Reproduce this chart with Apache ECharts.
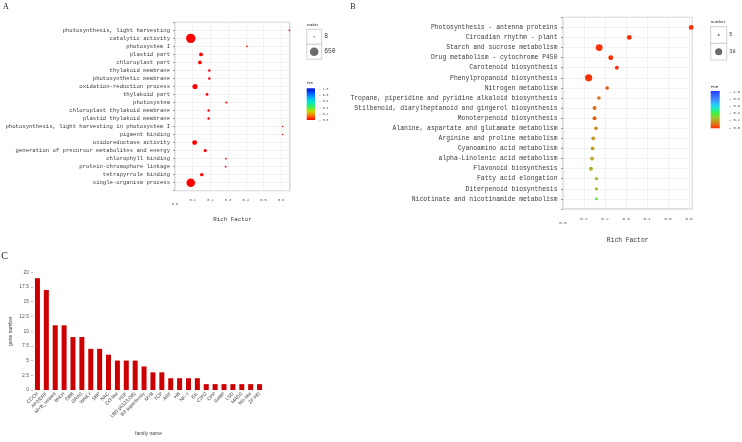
<!DOCTYPE html>
<html><head><meta charset="utf-8">
<script src="https://cdn.jsdelivr.net/npm/echarts@6/dist/echarts.min.js"></script>
<style>html,body{margin:0;padding:0;background:#fff}#c{width:742px;height:442px}</style>
</head><body><div id="c"></div>
<script>
// ---------- Panel A: GO enrichment ----------
const goTerms = ['photosynthesis, light harvesting','catalytic activity','photosystem I','plastid part','chloroplast part','thylakoid membrane','photosynthetic membrane','oxidation-reduction process','thylakoid part','photosystem','chloroplast thylakoid membrane','plastid thylakoid membrane','photosynthesis, light harvesting in photosystem I','pigment binding','oxidoreductase activity','generation of precursor metabolites and energy','chlorophyll binding','protein-chromophore linkage','tetrapyrrole binding','single-organism process'];
const goRich = [0.646,0.089,0.407,0.147,0.141,0.194,0.194,0.113,0.181,0.290,0.190,0.190,0.608,0.608,0.111,0.171,0.288,0.286,0.151,0.089];
const goNumber = [10,800,10,80,75,22,22,180,32,12,22,22,8,8,155,45,12,10,58,650];
const goFdr = [0.01,0.0,0.01,0.0,0.0,0.0,0.0,0.0,0.0,0.01,0.0,0.0,0.02,0.02,0.0,0.0,0.01,0.01,0.0,0.0];
const goSizeLegend = [8, 650];

// ---------- Panel B: KEGG enrichment ----------
const keggTerms = ['Photosynthesis - antenna proteins','Circadian rhythm - plant','Starch and sucrose metabolism','Drug metabolism - cytochrome P450','Carotenoid biosynthesis','Phenylpropanoid biosynthesis','Nitrogen metabolism','Tropane, piperidine and pyridine alkaloid biosynthesis','Stilbenoid, diarylheptanoid and gingerol biosynthesis','Monoterpenoid biosynthesis','Alanine, aspartate and glutamate metabolism','Arginine and proline metabolism','Cyanoamino acid metabolism','alpha-Linolenic acid metabolism','Flavonoid biosynthesis','Fatty acid elongation','Diterpenoid biosynthesis','Nicotinate and nicotinamide metabolism'];
const keggRich = [0.610,0.315,0.172,0.227,0.256,0.122,0.210,0.171,0.150,0.150,0.157,0.144,0.141,0.138,0.133,0.159,0.159,0.159];
const keggNumber = [14,14,33,15,9,38,8,8,10,10,8,9,9,9,10,7,7,6];
const keggFdr = [0.01,0.0,0.01,0.0,0.0,0.01,0.05,0.10,0.10,0.08,0.15,0.18,0.20,0.22,0.23,0.27,0.26,0.35];
const keggSizeLegend = [5, 38];

// ---------- Panel C: TF families ----------
const families = ['CCCH','AP2/ERF','MYB_related','bHLH','DBB','GRAS','WRKY','SBP','NAC','CO-like','HSF','LBD (AS2/LOB)','B3 superfamily','MYB','TCP','ARF','HB','NF-Y','EIL','C2H2','CPP','GeBP','LSD','MADS','Nin-like','ZF-HD'];
const geneCounts = [19,17,11,11,9,9,7,7,6,5,5,5,4,3,3,2,2,2,2,1,1,1,1,1,1,1];

const fdrTicks = ['1.0','0.8','0.6','0.4','0.2','0.0'];
const colorsA = ['#ff0000','#ff7a00','#b8e000','#30f060','#00e8d0','#00a8ff','#0050ff','#0010c8'];
const colorsB = ['#ff2a00','#e06a18','#c0a020','#90d030','#40f040','#20f0a0','#20d8f0','#30b0ff','#4080ff','#3060ff','#2040ff'];

const MONO = 'Liberation Mono';
const SANS = 'Liberation Sans';

function makeSize(vmin, vmax, dmin, dmax) {
  return v => dmin + (dmax - dmin) * Math.sqrt(Math.max(0, v - vmin) / (vmax - vmin));
}
const sizeA = makeSize(8, 650, 1.4, 8.6);
const sizeB = makeSize(5, 38, 2, 7.2);

function tickFmt(v) {
  const t = Math.round(v * 10);
  if (Math.abs(v * 10 - t) > 1e-6) return '';
  return t === 0 ? '{z|0.0}' : (t / 10).toFixed(1);
}
function catFmt(list) {
  return v => { const i = Math.round(v); return (Math.abs(v - i) < 1e-6 && list[i]) ? list[i] : ''; };
}
function gradient(colors) {
  return new echarts.graphic.LinearGradient(0, 1, 0, 0, colors.map((c, i) => ({offset: i / (colors.length - 1), color: c})));
}

function legendGraphics(o) {
  const els = [];
  els.push({type:'text', left:o.x, top:o.titleY - o.titleFs/2, style:{text:'Number', font:o.titleFs+'px "'+MONO+'"', fill:'#333'}});
  o.sizes.forEach((v, i) => {
    const y = o.boxY + i * o.boxH;
    els.push({type:'rect', shape:{x:o.x, y:y, width:o.boxW, height:o.boxH}, style:{fill:'#fff', stroke:'#c4c4c4', lineWidth:0.8}});
    els.push({type:'circle', shape:{cx:o.x + o.boxW/2, cy:y + o.boxH/2, r:o.sizeFn(v)/2}, style:{fill:'#6b6b6b'}});
    els.push({type:'text', x:o.x + o.boxW + 2.6, y:y + o.boxH/2, style:{text:String(v), font:o.labFs+'px "'+MONO+'"', fill:'#333', verticalAlign:'middle'}});
  });
  els.push({type:'text', x:o.x, y:o.fdrY, style:{text:'FDR', font:o.titleFs+'px "'+MONO+'"', fill:'#333', verticalAlign:'middle'}});
  els.push({type:'rect', shape:{x:o.x, y:o.barY, width:o.barW, height:o.barH}, style:{fill:gradient(o.colors)}});
  fdrTicks.forEach((t, i) => {
    const y = o.tickY0 + i * (o.tickY1 - o.tickY0) / (fdrTicks.length - 1);
    els.push({type:'text', x:o.tickX, y:y, style:{text:'- ' + t, font:o.tickFs+'px "'+MONO+'"', fill:'#444', verticalAlign:'middle'}});
  });
  return els;
}

const chart = echarts.init(document.getElementById('c'), null, {renderer:'canvas'});

const gridBase = {show:true, borderColor:'#bdbdbd', borderWidth:1, backgroundColor:'#fff', outerBoundsMode:'none', containLabel:false};
const splitStyle = {lineStyle:{color:'#ececec', width:0.7}};

function richX(fs) {
  return {fontFamily:MONO, fontSize:fs, color:'#4d4d4d', formatter:tickFmt,
    rich:{z:{fontFamily:MONO, fontSize:fs, color:'#4d4d4d', padding:[4,0,0,0]}}};
}

const option = {
  animation:false,
  backgroundColor:'#fff',
  grid:[
    Object.assign({left:175, top:22.3, width:115, height:168.4}, gridBase),
    Object.assign({left:563, top:17.3, width:129.3, height:191.7}, gridBase),
    {left:33, top:272.3, width:231, height:117.7, show:false, outerBoundsMode:'none', containLabel:false}
  ],
  xAxis:[
    {gridIndex:0, type:'value', min:0, max:0.65, interval:0.1, axisLine:{show:false}, axisTick:{show:false},
     splitLine:splitStyle, axisLabel:Object.assign({margin:7}, richX(3.6)),
     name:'Rich Factor', nameLocation:'middle', nameGap:26, nameTextStyle:{fontFamily:MONO, fontSize:5.8, color:'#333'}},
    {gridIndex:1, type:'value', min:0, max:0.615, interval:0.1, axisLine:{show:false}, axisTick:{show:false},
     splitLine:splitStyle, axisLabel:Object.assign({margin:8}, richX(4.1)),
     name:'Rich Factor', nameLocation:'middle', nameGap:28.7, nameTextStyle:{fontFamily:MONO, fontSize:6.3, color:'#333'}},
    {gridIndex:2, type:'category', data:families, axisLine:{show:false}, axisTick:{show:false},
     axisLabel:{interval:0, rotate:45, fontFamily:SANS, fontSize:4.8, color:'#444', margin:3},
     name:'family name', nameLocation:'middle', nameGap:41, nameTextStyle:{fontFamily:SANS, fontSize:5, color:'#444'}}
  ],
  yAxis:[
    {gridIndex:0, type:'value', inverse:true, min:-1, max:goTerms.length, interval:1,
     axisLine:{show:false}, axisTick:{show:true, length:2, lineStyle:{color:'#555', width:0.6}},
     splitLine:splitStyle, axisLabel:{formatter:catFmt(goTerms), fontFamily:MONO, fontSize:5.6, color:'#3a3a3a', margin:5}},
    {gridIndex:1, type:'value', inverse:true, min:-1, max:keggTerms.length, interval:1,
     axisLine:{show:false}, axisTick:{show:true, length:2, lineStyle:{color:'#555', width:0.6}},
     splitLine:splitStyle, axisLabel:{formatter:catFmt(keggTerms), fontFamily:MONO, fontSize:6.4, color:'#3a3a3a', margin:5.5}},
    {gridIndex:2, type:'value', min:0, max:20, interval:2.5,
     axisLine:{show:false}, axisTick:{show:true, length:2, lineStyle:{color:'#888', width:0.6}},
     splitLine:{show:false}, axisLabel:{fontFamily:SANS, fontSize:5, color:'#555', margin:4},
     name:'gene number', nameLocation:'middle', nameGap:20, nameTextStyle:{fontFamily:SANS, fontSize:5, color:'#444'}}
  ],
  visualMap:[
    {type:'continuous', show:false, seriesIndex:0, dimension:3, min:0, max:1, inRange:{color:colorsA}},
    {type:'continuous', show:false, seriesIndex:1, dimension:3, min:0, max:1, inRange:{color:colorsB}}
  ],
  series:[
    {type:'scatter', xAxisIndex:0, yAxisIndex:0, symbol:'circle',
     data:goTerms.map((t, i) => [goRich[i], i, goNumber[i], goFdr[i]]),
     symbolSize:v => sizeA(v[2]), itemStyle:{opacity:1}},
    {type:'scatter', xAxisIndex:1, yAxisIndex:1, symbol:'circle',
     data:keggTerms.map((t, i) => [keggRich[i], i, keggNumber[i], keggFdr[i]]),
     symbolSize:v => sizeB(v[2]), itemStyle:{opacity:1}},
    {type:'bar', xAxisIndex:2, yAxisIndex:2, data:geneCounts, barWidth:5, itemStyle:{color:'#cc0000'}}
  ],
  graphic:[
    {type:'text', x:6, y:7, style:{text:'A', font:'8px "Liberation Serif"', fill:'#222', align:'center', verticalAlign:'middle'}},
    {type:'text', x:353, y:7, style:{text:'B', font:'8px "Liberation Serif"', fill:'#222', align:'center', verticalAlign:'middle'}},
    {type:'text', x:4.5, y:256, style:{text:'C', font:'10px "Liberation Serif"', fill:'#222', align:'center', verticalAlign:'middle'}}
  ].concat(legendGraphics({x:306.7, titleY:25.7, titleFs:3.4, boxY:29.3, boxW:15, boxH:15, sizes:goSizeLegend, sizeFn:sizeA, labFs:6.3,
      fdrY:82.7, barY:88.3, barW:8.3, barH:31.7, colors:colorsA, tickX:319, tickY0:89.3, tickY1:120, tickFs:3.1}))
   .concat(legendGraphics({x:710.7, titleY:21.7, titleFs:4.3, boxY:26.7, boxW:16, boxH:16.7, sizes:keggSizeLegend, sizeFn:sizeB, labFs:5.2,
      fdrY:86.7, barY:91, barW:9, barH:37.3, colors:colorsB, tickX:729, tickY0:91.7, tickY1:127.7, tickFs:3.7}))
};
chart.setOption(option);
</script>
</body></html>
